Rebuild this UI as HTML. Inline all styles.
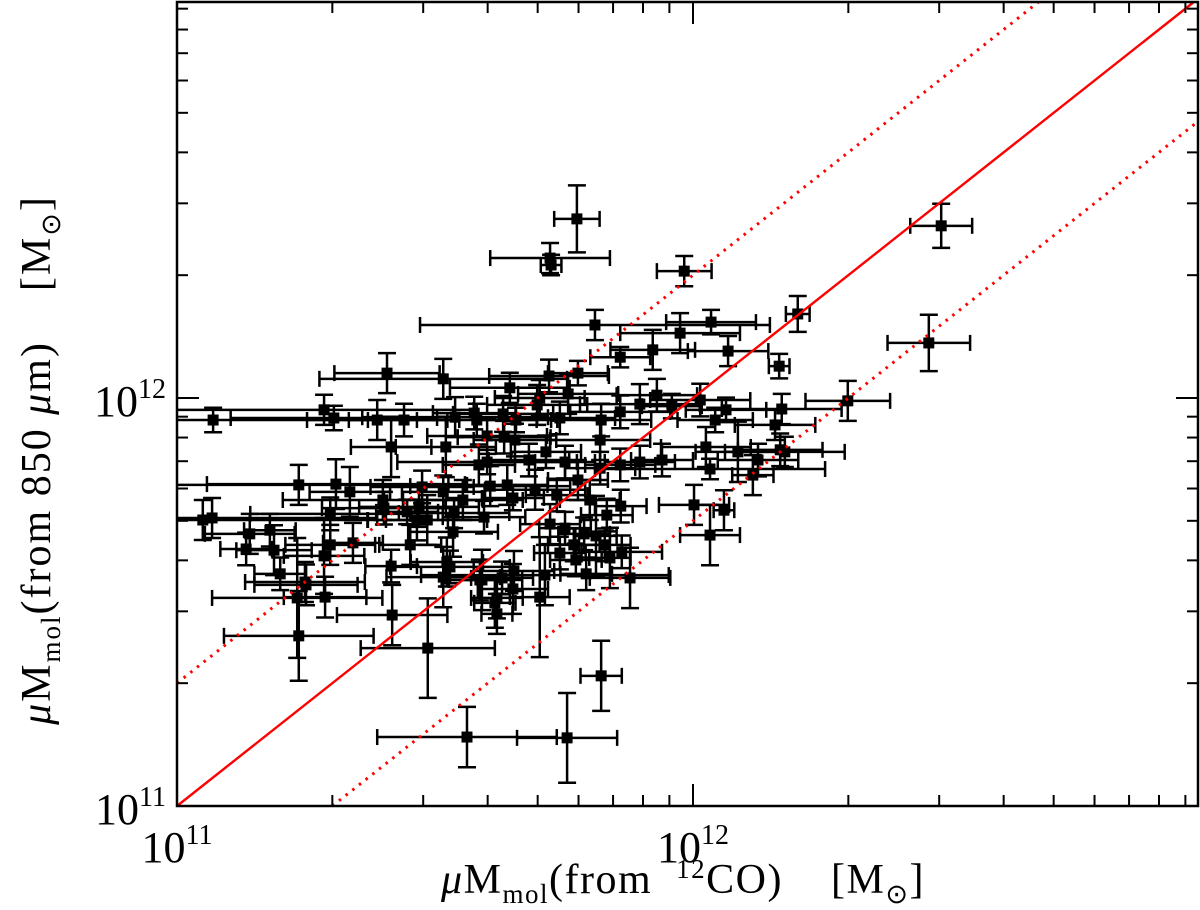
<!DOCTYPE html>
<html><head><meta charset="utf-8"><style>
html,body{margin:0;padding:0;background:#fff;}
svg{display:block;font-family:"Liberation Serif",serif;}
</style></head><body>
<svg id="chart" width="1200" height="910" viewBox="0 0 1200 910" xmlns="http://www.w3.org/2000/svg">
<g id="marks"></g>
<g id="lines"></g>
<g id="axes"></g>
<text x="683" y="893" text-anchor="middle" font-size="42" letter-spacing="1.5" xml:space="preserve"><tspan font-style="italic">μ</tspan>M<tspan font-size="27" dy="10">mol</tspan><tspan dy="-10">(from  </tspan><tspan font-size="27" dy="-15">12</tspan><tspan dy="15">CO)    [M</tspan><tspan font-size="27" dy="10">⊙</tspan><tspan dy="-10">]</tspan></text>
<text transform="translate(50,460) rotate(-90)" text-anchor="middle" font-size="42" letter-spacing="2" xml:space="preserve"><tspan font-style="italic">μ</tspan>M<tspan font-size="27" dy="10">mol</tspan><tspan dy="-10">(from 850 </tspan><tspan font-style="italic">μ</tspan><tspan>m)    [M</tspan><tspan font-size="27" dy="10">⊙</tspan><tspan dy="-10">]</tspan></text>
</svg>
<script>
const logX=[11.775,11.723,11.725,11.983,12.481,12.457,12.203,12.300,11.810,12.035,11.975,11.922,12.068,12.167,11.407,11.516,11.645,11.721,11.777,11.859,11.703,11.070,11.285,11.304,11.388,11.440,11.539,11.581,11.632,11.657,11.698,11.742,11.758,11.822,11.859,11.897,11.930,11.959,12.014,12.064,12.172,12.043,11.415,11.521,11.601,11.655,11.820,12.025,12.159,12.087,12.126,12.116,12.169,12.178,12.033,11.601,11.554,11.469,11.335,11.308,11.236,11.399,11.068,11.050,11.141,11.188,11.285,11.297,11.341,11.297,11.401,11.452,11.485,11.535,11.537,11.446,11.516,11.607,11.640,11.651,11.694,11.736,11.682,11.715,11.752,11.777,11.820,11.859,11.897,11.940,11.800,11.833,11.860,11.723,11.752,11.769,11.742,11.789,11.812,11.839,11.862,11.773,12.002,12.033,12.060,11.878,11.829,11.793,11.713,11.653,11.630,11.703,11.651,11.591,11.616,11.620,11.516,11.529,11.248,11.200,11.233,11.236,11.417,11.415,11.486,11.562,11.756,11.822,11.134,11.180,11.576,11.634,11.585,11.475,11.465,11.595,11.523,11.587,11.620,11.250,11.287];
const logY=[12.439,12.343,12.326,12.311,12.422,12.135,12.206,11.993,12.179,12.186,12.159,12.118,12.115,12.078,12.061,12.047,12.025,12.054,12.061,12.100,12.000,11.946,11.971,11.951,11.946,11.946,11.953,11.946,11.961,11.946,11.983,11.951,12.010,11.946,11.966,11.985,12.007,11.980,11.995,11.971,11.973,11.946,11.880,11.880,11.907,11.897,11.897,11.880,11.934,11.868,11.848,11.811,11.873,11.868,11.826,11.843,11.750,11.733,11.770,11.789,11.787,11.750,11.706,11.701,11.667,11.627,11.613,11.640,11.645,11.716,11.730,11.640,11.701,11.672,11.718,11.721,11.770,11.784,11.787,11.755,11.775,11.762,11.848,11.868,11.843,11.799,11.828,11.836,11.843,11.848,11.750,11.713,11.735,11.691,11.681,11.640,11.620,11.667,11.662,11.608,11.623,11.603,11.738,11.664,11.725,11.559,11.640,11.569,11.566,11.576,11.559,11.512,11.532,11.554,11.498,11.471,11.561,11.586,11.549,11.569,11.510,11.417,11.468,11.588,11.387,11.169,11.167,11.319,11.630,11.676,11.963,11.904,11.836,11.782,11.701,11.708,11.598,11.554,11.510,11.542,11.512];
const errX=[.044,.116,.02,.053,.060,.080,.023,.082,.339,.087,.116,.082,.078,.02,.102,.24,.116,.116,.058,.058,.087,.30,.29,.2,.136,.107,.18,.116,.097,.08,.097,.107,.097,.097,.097,.116,.078,.058,.097,.078,.116,.073,.078,.097,.116,.08,.097,.087,.078,.082,.078,.04,.082,.116,.223,.174,.116,.116,.078,.25,.29,.194,.32,.32,.087,.073,.078,.087,.058,.155,.12,.06,.116,.087,.107,.06,.08,.155,.078,.06,.097,.06,.078,.068,.058,.058,.068,.068,.068,.06,.058,.05,.05,.058,.05,.05,.05,.05,.04,.04,.078,.05,.068,.058,.02,.078,.05,.05,.24,.078,.06,.058,.068,.078,.04,.03,.11,.116,.116,.05,.165,.145,.107,.05,.13,.174,.097,.04,.05,.05,.08,.09,.07,.1,.06,.08,.07,.06,.05,.1,.08];
const errY=[.082,.037,.025,.037,.054,.069,.044,.049,.037,.03,.049,.049,.037,.03,.049,.049,.037,.04,.03,.025,.044,.03,.037,.03,.049,.04,.049,.04,.044,.03,.049,.04,.049,.04,.04,.049,.04,.03,.04,.03,.037,.03,.074,.074,.044,.04,.049,.049,.037,.074,.04,.049,.04,.037,.025,.03,.049,.049,.061,.061,.049,.049,.049,.049,.049,.061,.093,.049,.049,.04,.04,.049,.061,.061,.037,.03,.04,.049,.049,.03,.049,.04,.04,.04,.04,.049,.04,.04,.04,.04,.049,.04,.04,.049,.04,.04,.04,.04,.098,.074,.04,.04,.049,.074,.049,.074,.04,.04,.074,.049,.04,.147,.061,.074,.061,.049,.074,.04,.049,.04,.147,.11,.074,.04,.122,.074,.11,.086,.04,.04,.04,.04,.05,.04,.05,.04,.06,.05,.05,.05,.05];
const xTickMajor=[11,12];
const yTickMajor=[11,12];
const NS='http://www.w3.org/2000/svg';
const X0=177,X1=1198,Y0=806,Y1=2;
const xMin=11,xDec=516,yMin=11,yDec=408;
function sx(l){return X0+(l-xMin)*xDec;}
function sy(l){return Y0-(l-yMin)*yDec;}
function mk(tag,attrs,parent){const e=document.createElementNS(NS,tag);for(const k in attrs)e.setAttribute(k,attrs[k]);parent.appendChild(e);return e;}
const marks=document.getElementById('marks');
for(let i=0;i<logX.length;i++){
  const g=document.createElementNS(NS,'g');
  
  
  marks.appendChild(g);
  const cx=sx(logX[i]),cy=sy(logY[i]);
  const xl=sx(logX[i]-errX[i]),xr=sx(logX[i]+errX[i]);
  const yt=sy(logY[i]+errY[i]),yb=sy(logY[i]-errY[i]);
  const st={stroke:'#000','stroke-width':2.5,fill:'none'};
  mk('line',Object.assign({x1:Math.max(xl,X0),y1:cy,x2:xr,y2:cy},st),g);
  mk('line',Object.assign({x1:cx,y1:yt,x2:cx,y2:yb},st),g);
  if(xl>X0)mk('line',Object.assign({x1:xl,y1:cy-8,x2:xl,y2:cy+8},st),g);
  mk('line',Object.assign({x1:xr,y1:cy-8,x2:xr,y2:cy+8},st),g);
  mk('line',Object.assign({x1:cx-9,y1:yt,x2:cx+9,y2:yt},st),g);
  mk('line',Object.assign({x1:cx-9,y1:yb,x2:cx+9,y2:yb},st),g);
  mk('rect',{x:cx-5.5,y:cy-5.5,width:11,height:11,fill:'#000'},g);
}
const lines=document.getElementById('lines');
const offs=[0,Math.log10(2),-Math.log10(2)];
const lnames=['one-to-one-line','upper-factor-2-line','lower-factor-2-line'];
const xmaxL=xMin+(X1-X0)/xDec;
offs.forEach((o,k)=>{
  let a=xMin,b=xmaxL;
  const ymaxL=yMin+(Y0-Y1)/yDec;
  a=Math.max(a,yMin-o); b=Math.min(b,ymaxL-o);
  const l=mk('line',{x1:sx(a),y1:sy(a+o),x2:sx(b),y2:sy(b+o),stroke:'#f00','stroke-width':2.4},lines);
  if(o!==0){l.setAttribute('stroke-dasharray','2.5,6');l.setAttribute('stroke-width','3');}
  
  
});
const ax=document.getElementById('axes');
mk('rect',{x:X0,y:Y1,width:X1-X0,height:Y0-Y1,fill:'none',stroke:'#000','stroke-width':2.5},ax);
for(let d=11;d<=12;d++){for(let m=1;m<=9;m++){
  const l=d+Math.log10(m);
  const len=m===1?22:11;
  const x=sx(l); if(x<=X1){
    mk('line',{x1:x,y1:Y0,x2:x,y2:Y0-len,stroke:'#000','stroke-width':2},ax);
    mk('line',{x1:x,y1:Y1,x2:x,y2:Y1+len,stroke:'#000','stroke-width':2},ax);}
  const y=sy(l); if(y>=Y1){
    mk('line',{x1:X0,y1:y,x2:X0+len,y2:y,stroke:'#000','stroke-width':2},ax);
    mk('line',{x1:X1,y1:y,x2:X1-len,y2:y,stroke:'#000','stroke-width':2},ax);}
}}
xTickMajor.forEach(v=>{
  const t=mk('text',{x:sx(v),y:862,'text-anchor':'middle','font-size':44},ax);
  
  
  t.innerHTML='10<tspan font-size="28" dy="-18">'+v+'</tspan>';
});
yTickMajor.forEach(v=>{
  const t=mk('text',{x:166,y:sy(v)+18,'text-anchor':'end','font-size':44},ax);
  
  
  t.innerHTML='10<tspan font-size="28" dy="-18">'+v+'</tspan>';
});
</script>
</body></html>
